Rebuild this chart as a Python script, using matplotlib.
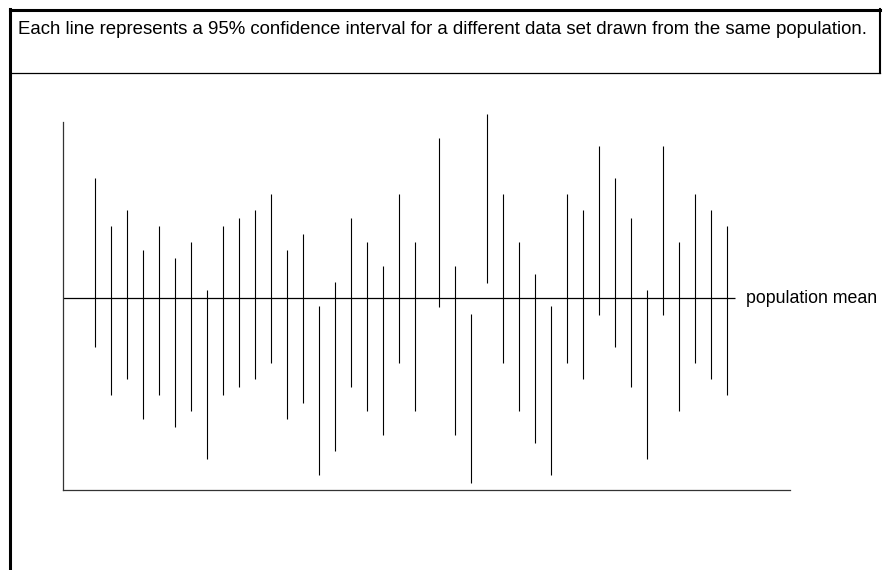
import matplotlib
matplotlib.use("Agg")
import matplotlib.pyplot as plt

plt.rcParams["font.family"] = ["Liberation Sans", "DejaVu Sans"]

# Confidence intervals, one per data set (arbitrary units, x-axis at 0)
sample_pos = [2, 3, 4, 5, 6, 7, 8, 9, 10, 11, 12, 13, 14, 15, 16, 17, 18, 19, 20, 21, 22,
              23.5, 24.5, 25.5, 26.5, 27.5, 28.5, 29.5, 30.5, 31.5, 32.5, 33.5, 34.5,
              35.5, 36.5, 37.5, 38.5, 39.5, 40.5, 41.5]
upper = [39, 33, 35, 30, 33, 29, 31, 25, 33, 34, 35, 37, 30, 32, 23, 26, 34, 31, 28, 37, 31,
         44, 28, 22, 47, 37, 31, 27, 23, 37, 35, 43, 39, 34, 25, 43, 31, 37, 35, 33]
lower = [17.9, 11.9, 13.9, 8.9, 11.9, 7.9, 9.9, 3.9, 11.9, 12.9, 13.9, 15.9, 8.9, 10.9, 1.9,
         4.9, 12.9, 9.9, 6.9, 15.9, 9.9,
         22.9, 6.9, 0.9, 25.9, 15.9, 9.9, 5.9, 1.9, 15.9, 13.9, 21.9, 17.9, 12.9, 3.9,
         21.9, 9.9, 15.9, 13.9, 11.9]
pop_mean = 23.94

title = "Each line represents a 95% confidence interval for a different data set drawn from the same population."
mean_label = "population mean"

fig = plt.figure(figsize=(8.85, 5.7), dpi=100)

# frame around the figure (pixel coordinates)
frame = fig.add_axes([0, 0, 1, 1])
frame.set_xlim(0, 885)
frame.set_ylim(570, 0)
frame.axis("off")
frame.plot([10, 880], [10, 10], color="black", lw=2.2)
frame.plot([10, 10], [9, 570], color="black", lw=2.2)
frame.plot([880, 880], [9, 73], color="black", lw=1.5)
frame.plot([10, 880], [73, 73], color="black", lw=0.9)
frame.text(18, 29, title, fontsize=13.4, ha="left", va="center")

# chart area
ax = fig.add_axes([63 / 885, 80 / 570, 727 / 885, 368 / 570])
ax.set_xlim(0, 45.44)
ax.set_ylim(0, 46)
ax.vlines(sample_pos, lower, upper, color="black", lw=0.8, clip_on=False)
ax.hlines(pop_mean, 0, 42, color="black", lw=0.9)
ax.text(42.7, pop_mean, mean_label, fontsize=12.8, ha="left", va="center")

for s in ["top", "right"]:
    ax.spines[s].set_visible(False)
for s in ["left", "bottom"]:
    ax.spines[s].set_color("#333333")
    ax.spines[s].set_linewidth(0.9)
ax.set_xticks([])
ax.set_yticks([])
ax.patch.set_alpha(0)

fig.savefig("out.png", dpi=100)
